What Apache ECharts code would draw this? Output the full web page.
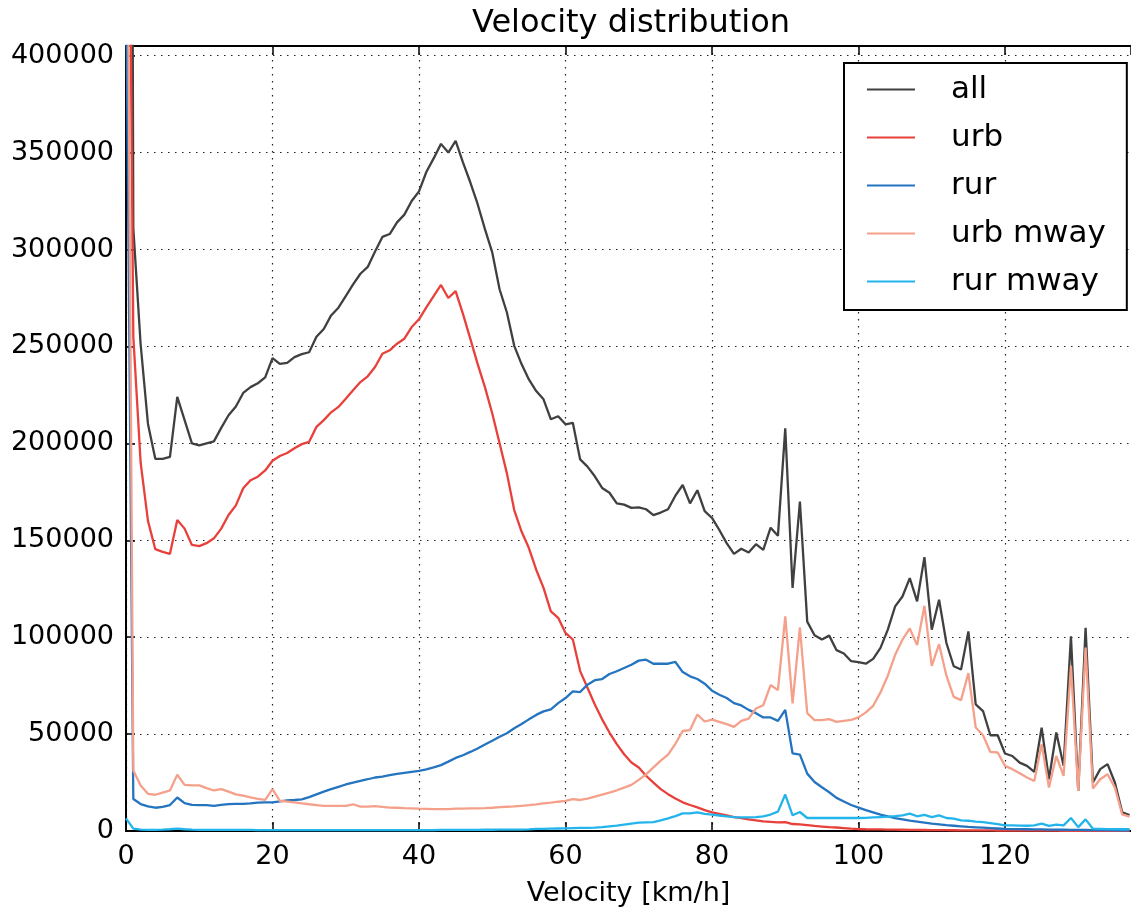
<!DOCTYPE html>
<html>
<head>
<meta charset="utf-8">
<script src="https://cdn.jsdelivr.net/npm/echarts@6/dist/echarts.min.js"></script>
<style>
html,body{margin:0;padding:0;background:#fff;}
#chart{width:1131px;height:912px;}
</style>
</head>
<body>
<div id="chart"></div>
<script>
// Velocity bins [km/h] (one per integer speed)
const speeds = Array.from({length: 138}, (_, i) => i);

const seriesNames = ['all', 'urb', 'rur', 'urb mway', 'rur mway'];

const allCounts = [
 1500000,311000,251000,210000,192000,192000,193000,224000,212000,200000,
 199000,200000,201000,208000,214500,219000,226000,229000,231000,234000,
 244000,241000,241500,244500,246000,247000,255000,259000,266000,270000,
 276000,282000,287500,291000,299000,306500,308000,314000,318000,325000,
 330000,340000,347000,354500,350000,356000,345000,334700,323500,310500,
 298500,279500,267500,250300,240900,233000,227000,222700,212400,214000,
 209800,210600,191700,188000,183000,177000,174500,169000,168400,166700,
 167000,166000,163000,164300,166000,173000,178500,169000,175800,165000,
 161500,155300,148500,143000,145600,143700,148000,145000,156500,152300,
 207700,125400,170000,108000,101000,98800,100800,93300,91600,87600,
 87100,86300,88800,94500,103900,115900,121000,130500,118500,141300,
 103900,119300,97000,85000,83300,103000,65300,61900,49400,49400,
 40000,38700,35300,33600,30500,53300,26700,50800,33600,100500,
 20700,104800,25000,31900,34500,25000,9600,8200
];

const urbCounts = [
 700000,255000,190000,160000,145400,144000,143000,160500,156000,147600,
 147000,148500,151000,156000,163000,168000,176800,181000,182800,186000,
 191000,193500,195000,197500,199600,200800,208500,212000,216000,218800,
 223000,227400,231600,234600,239400,246200,248000,251400,254000,260000,
 264000,270200,276000,281700,275000,278500,266800,254000,241000,229000,
 215400,200000,184500,165600,154500,146000,134800,125400,113300,110000,
 102200,98800,82500,73900,65300,57600,50800,44800,39600,35300,
 32800,28500,25000,21600,19000,16800,14800,13400,12200,10800,
 9600,8800,8000,7200,6600,6000,5500,5000,4700,4400,
 4600,3600,3400,3000,2600,2300,2000,1800,1500,1200,
 1000,900,850,800,750,700,650,600,560,520,
 480,450,420,390,360,340,320,300,280,260,
 240,220,200,190,180,170,160,150,140,130,
 120,110,100,100,90,90,80,80
];

const rurCounts = [
 450000,16500,13900,12700,12000,12500,13400,17300,14400,13500,
 13400,13400,13000,13500,13900,14000,14000,14200,14600,14800,
 14800,15300,15800,16000,16300,17500,18900,20300,21600,22800,
 24000,25000,25900,26700,27600,28000,28800,29500,30000,30500,
 31000,31800,32800,34000,35800,37700,39100,40800,42600,44600,
 46600,48600,50400,53000,55200,57600,59900,61700,62800,66000,
 68600,72000,71700,75500,77800,78400,81000,82400,84100,85800,
 87900,88400,86300,86300,86300,87200,82000,79800,78400,76000,
 72400,70300,68600,66000,64800,62500,60800,58600,58600,56800,
 62500,40000,39400,29600,25300,22600,20000,17100,15200,13400,
 12100,10800,9600,8400,7500,6700,6000,5300,4800,4300,
 3800,3400,3000,2700,2400,2100,1900,1700,1500,1300,
 1100,1000,950,900,850,800,750,700,650,600,
 560,520,480,450,420,390,360,340
];

const urbMwayCounts = [
 600000,31200,23500,19200,18700,19800,20900,29000,23800,23500,
 23500,22100,20900,21600,20300,18900,18200,17300,16600,16100,
 21600,15600,15200,14800,14300,13800,13400,13000,13000,13000,
 13000,13800,12600,12600,12800,12400,12100,12000,11800,11700,
 11500,11400,11300,11300,11300,11500,11500,11700,11700,11800,
 12000,12300,12500,12700,13000,13300,13700,14200,14600,15100,
 15500,16400,16000,16700,17700,18800,19800,21000,22400,23800,
 26400,29200,32800,36300,39400,45000,51600,52100,60100,56500,
 57500,56300,55100,53700,56800,58000,63200,64900,75300,72700,
 110700,65800,105000,60800,57200,57200,57700,56300,56800,57300,
 58600,61200,64600,71500,80100,90900,98700,104500,95900,116200,
 85200,96400,80100,69200,67500,81500,53400,49400,40800,40500,
 33600,31900,29800,27600,25800,44800,22400,38700,28400,85200,
 20700,94700,21900,26700,29300,22400,8600,7400
];

const rurMwayCounts = [
 6500,1200,700,600,600,700,900,1200,900,700,
 600,600,600,600,550,550,550,550,500,500,
 500,500,500,500,500,500,500,500,500,500,
 500,500,500,500,500,500,500,500,500,500,
 500,500,500,550,550,550,600,600,600,650,
 650,700,700,750,750,800,1050,1100,1200,1300,
 1400,1500,1600,1650,1700,2000,2400,2800,3300,3800,
 4300,4500,4600,5500,6500,7700,9100,9100,9600,8800,
 8500,8000,7500,7200,7000,7000,7200,7600,8500,10000,
 18800,8100,9800,6700,6700,6700,6700,6700,6700,6700,
 6700,6800,7000,7200,7400,7700,8100,9000,7600,8300,
 7200,8100,6700,6400,5500,5300,4800,4600,4100,3600,
 2900,2900,2800,2700,2900,3800,2600,3300,2900,6700,
 2000,6000,1200,1100,1000,1000,900,900
];

const xTicks = [0, 20, 40, 60, 80, 100, 120];
const yTicks = [0, 50000, 100000, 150000, 200000, 250000, 300000, 350000, 400000];

const colors = ['#404040', '#e8403a', '#2474c0', '#f5a08a', '#22b4ea'];
const seriesData = [allCounts, urbCounts, rurCounts, urbMwayCounts, rurMwayCounts];

const FONT = 'DejaVu Sans';
const chart = echarts.init(document.getElementById('chart'), null, {renderer: 'canvas'});

const gridLine = {showMaxLine: false, lineStyle: {color: '#222', width: 1.2, type: [1.5, 5.5]}};

const option = {
  animation: false,
  backgroundColor: '#fff',
  title: {
    text: 'Velocity distribution',
    left: 472, top: 8, padding: 0,
    textStyle: {fontFamily: FONT, fontSize: 32, fontWeight: 'normal', color: '#000'}
  },
  legend: {
    orient: 'vertical',
    left: 844, top: 63,
    padding: [11, 21, 13, 22],
    itemWidth: 48, itemHeight: 14, itemGap: 17,
    backgroundColor: '#fff',
    borderColor: '#000', borderWidth: 2, borderRadius: 0,
    itemStyle: {opacity: 0},
    data: seriesNames,
    textStyle: {fontFamily: FONT, fontSize: 31, color: '#000', lineHeight: 30, padding: [0, 0, 0, 31]}
  },
  grid: {left: 126, top: 46, bottom: 80, right: 0, containLabel: false},
  xAxis: [{
    type: 'value', min: 0, max: 137.2, interval: 20,
    name: 'Velocity [km/h]', nameLocation: 'middle', nameGap: 49,
    nameTextStyle: {fontFamily: FONT, fontSize: 27, color: '#000'},
    axisLine: {show: true, onZero: false, lineStyle: {color: '#000', width: 2}},
    axisTick: {show: true, inside: true, length: 9, lineStyle: {color: '#000', width: 1.5}},
    axisLabel: {fontFamily: FONT, fontSize: 27, color: '#000', margin: 12, showMaxLabel: false,
      formatter: v => xTicks.includes(v) ? String(v) : ''},
    splitLine: Object.assign({show: true}, gridLine)
  }, {
    type: 'value', position: 'top', min: 0, max: 137.2, interval: 20,
    axisLine: {show: true, onZero: false, lineStyle: {color: '#000', width: 2}},
    axisTick: {show: true, inside: true, length: 9, lineStyle: {color: '#000', width: 1.5}},
    axisLabel: {show: false},
    splitLine: {show: false}
  }],
  yAxis: {
    type: 'value', min: 0, max: 405000, interval: 50000,
    axisLine: {show: true, lineStyle: {color: '#000', width: 2}},
    axisTick: {show: true, inside: true, length: 9, lineStyle: {color: '#000', width: 1.5}},
    axisLabel: {fontFamily: FONT, fontSize: 27, color: '#000', margin: 12, showMaxLabel: false,
      formatter: v => yTicks.includes(v) ? String(v) : ''},
    splitLine: Object.assign({show: true}, gridLine)
  },
  series: seriesNames.map((name, k) => ({
    name: name,
    type: 'line',
    xAxisIndex: 0,
    symbol: 'none',
    clip: true,
    color: colors[k],
    lineStyle: {color: colors[k], width: 2.3},
    data: speeds.map((s, i) => [s, seriesData[k][i]])
  }))
};
chart.setOption(option);
</script>
</body>
</html>
